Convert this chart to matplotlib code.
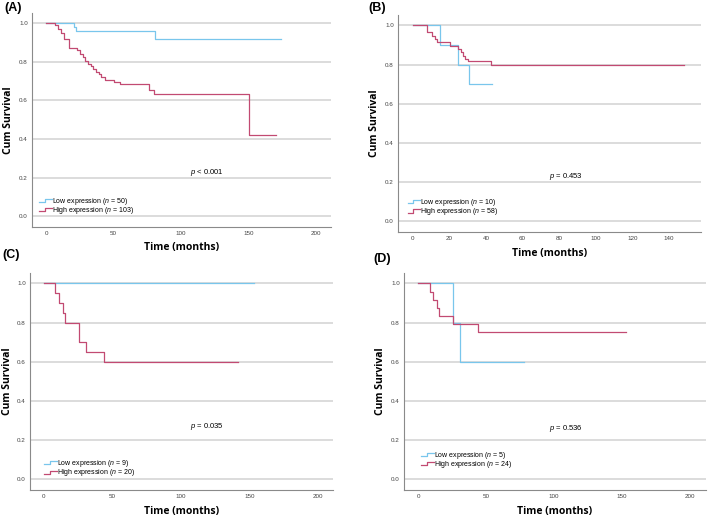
import matplotlib

matplotlib.use("Agg")

import matplotlib.pyplot as plt
from matplotlib.legend_handler import HandlerBase
from matplotlib.lines import Line2D

plt.rcParams["font.family"] = ["Liberation Sans", "DejaVu Sans"]
plt.rcParams["mathtext.fontset"] = "custom"
plt.rcParams["mathtext.it"] = "Liberation Sans:italic"
plt.rcParams["mathtext.rm"] = "Liberation Sans"

LOW_COLOR = "#79c6ec"
HIGH_COLOR = "#c24a72"

# Kaplan-Meier steps: event times (months) and survival after each step,
# last entry = last follow-up
a_low_t = [0, 21, 22.5, 81, 174]
a_low_s = [1.0, 0.98, 0.96, 0.918, 0.918]
a_high_t = [0, 7, 9, 11, 13, 17, 23, 25, 27, 29, 31, 33, 35, 37, 39, 41, 44, 50, 55, 76, 80, 150, 170]
a_high_s = [1.0, 0.99, 0.97, 0.95, 0.92, 0.873, 0.86, 0.842, 0.825, 0.807, 0.79, 0.78, 0.764,
            0.75, 0.738, 0.72, 0.707, 0.698, 0.683, 0.655, 0.635, 0.42, 0.42]

b_low_t = [0, 15, 24.5, 31, 43.5]
b_low_s = [1.0, 0.9, 0.8, 0.7, 0.7]
b_high_t = [0, 8, 10.5, 12, 13.5, 20.5, 25, 26.5, 27.5, 28.5, 30, 43, 148]
b_high_s = [1.0, 0.965, 0.948, 0.93, 0.914, 0.897, 0.88, 0.862, 0.845, 0.83, 0.82, 0.797, 0.797]

c_low_t = [0, 153]
c_low_s = [1.0, 1.0]
c_high_t = [0, 8, 11, 14, 15.3, 25.5, 30.5, 43.5, 142]
c_high_s = [1.0, 0.95, 0.90, 0.85, 0.80, 0.70, 0.65, 0.60, 0.60]

d_low_t = [0, 25.3, 30.5, 78]
d_low_s = [1.0, 0.8, 0.6, 0.6]
d_high_t = [0, 8.6, 11, 13.5, 15.3, 25.3, 43.8, 153]
d_high_s = [1.0, 0.958, 0.917, 0.875, 0.833, 0.792, 0.75, 0.75]

panels = [
    # label, low, high, n_low, n_high, p text, xticks
    ("(A)", (a_low_t, a_low_s), (a_high_t, a_high_s), 50, 103, "$p$ < 0.001", [0, 50, 100, 150, 200]),
    ("(B)", (b_low_t, b_low_s), (b_high_t, b_high_s), 10, 58, "$p$ = 0.453", [0, 20, 40, 60, 80, 100, 120, 140]),
    ("(C)", (c_low_t, c_low_s), (c_high_t, c_high_s), 9, 20, "$p$ = 0.035", [0, 50, 100, 150, 200]),
    ("(D)", (d_low_t, d_low_s), (d_high_t, d_high_s), 5, 24, "$p$ = 0.536", [0, 50, 100, 150, 200]),
]


class StepHandler(HandlerBase):
    def create_artists(self, legend, orig_handle, xdescent, ydescent, width, height, fontsize, trans):
        x0, y0 = -xdescent, -ydescent
        xs = [x0, x0 + width * 0.45, x0 + width * 0.45, x0 + width]
        ys = [y0 + height * 0.15, y0 + height * 0.15, y0 + height * 0.85, y0 + height * 0.85]
        line = Line2D(xs, ys, color=orig_handle.get_color(), lw=orig_handle.get_linewidth(), transform=trans)
        return [line]


# pixel boxes (left, top, right, bottom) of each plot area in the 709x519 figure
W, H = 709, 519
boxes = [(32, 13, 331, 227), (398, 15, 701, 232), (30, 273, 333, 490), (404, 273, 706, 490)]
xlims = [(-10.4, 211), (-8, 157.5), (-10.2, 211), (-10.5, 212)]
ptext_pos = [(119, 0.229), (84, 0.229), (118.7, 0.27), (108.6, 0.257)]
legend_pos = [(0.012, 0.034), (0.02, 0.051), (0.035, 0.037), (0.045, 0.075)]
ylabel_x = [-0.08, -0.079, -0.075, -0.077]
xlabel_y = [-0.097, -0.098, -0.1, -0.098]
label_pos = [(4, 2), (368, 2), (2, 249), (373, 253)]

fig = plt.figure(figsize=(W / 100, H / 100), dpi=100)

for i, (label, low, high, n_low, n_high, ptxt, xticks) in enumerate(panels):
    l, t, r, b = boxes[i]
    ax = fig.add_axes([l / W, 1 - b / H, (r - l) / W, (b - t) / H])
    ax.step(low[0], low[1], where="post", color=LOW_COLOR, lw=0.9,
            label=f"Low expression ($n$ = {n_low})")
    ax.step(high[0], high[1], where="post", color=HIGH_COLOR, lw=0.9,
            label=f"High expression ($n$ = {n_high})")
    ax.set_xlim(*xlims[i])
    ax.set_ylim(-0.055, 1.053)
    ax.set_xticks(xticks)
    ax.set_yticks([0.0, 0.2, 0.4, 0.6, 0.8, 1.0])
    ax.set_yticklabels([f"{v:.1f}" for v in ax.get_yticks()])
    ax.tick_params(length=0, labelsize=4.5, colors="#444444", pad=3)
    ax.grid(axis="y", color="#d9d9d9", lw=1.3)
    ax.set_axisbelow(True)
    for side in ("top", "right"):
        ax.spines[side].set_visible(False)
    for side in ("left", "bottom"):
        ax.spines[side].set_color("#8a8a8a")
        ax.spines[side].set_linewidth(0.8)
    ax.set_xlabel("Time (months)", fontsize=7.5, fontweight="bold", family="Open Sans")
    ax.set_ylabel("Cum Survival", fontsize=7.5, fontweight="bold", family="Open Sans")
    ax.xaxis.set_label_coords(0.5, xlabel_y[i])
    ax.yaxis.set_label_coords(ylabel_x[i], 0.5)
    ax.xaxis.label.set_va("center")
    ax.yaxis.label.set_va("center")
    ax.text(*ptext_pos[i], ptxt, fontsize=5.5, ha="center", va="center")
    ax.legend(loc="lower left", bbox_to_anchor=legend_pos[i], frameon=False, fontsize=5,
              handlelength=1.8, handleheight=0.6, handletextpad=0.05, labelspacing=-0.2,
              borderpad=0, handler_map={Line2D: StepHandler()})
    fig.text(label_pos[i][0] / W, 1 - label_pos[i][1] / H, label, fontsize=9, fontweight="bold",
             ha="left", va="top")

fig.savefig("out.png", dpi=100)
